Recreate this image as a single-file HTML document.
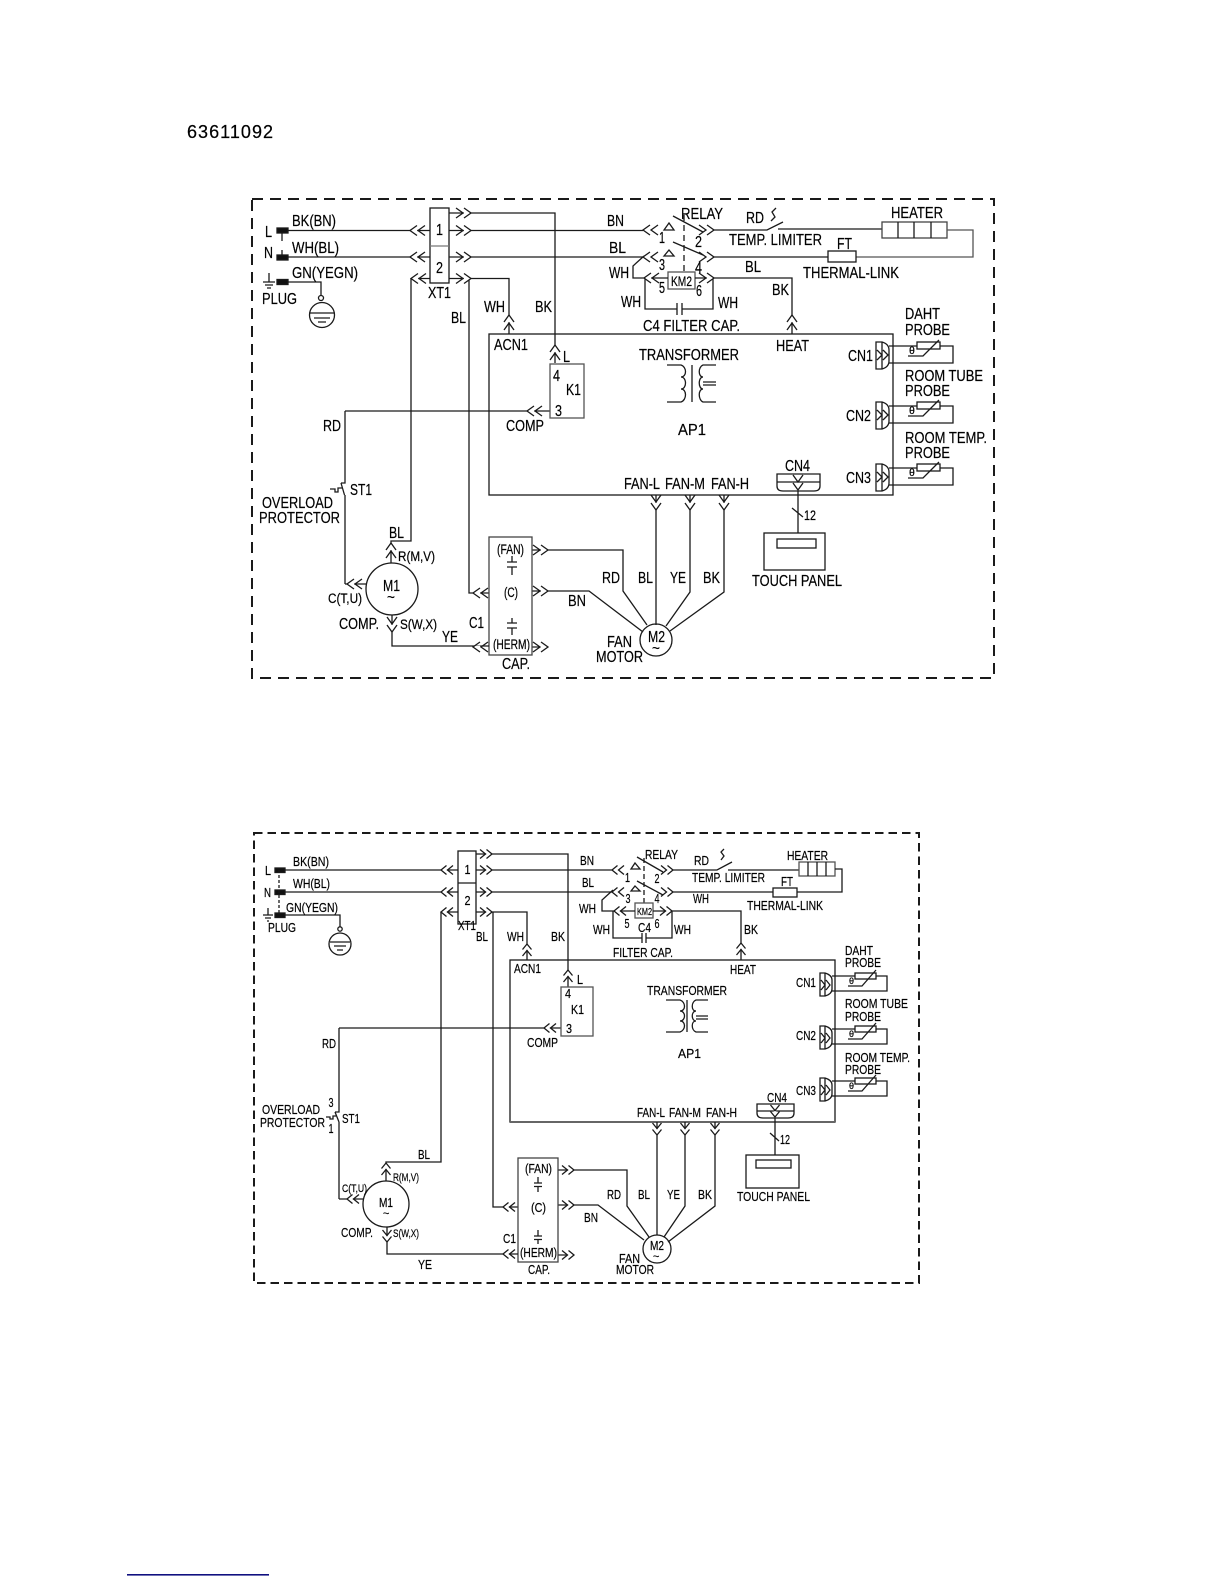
<!DOCTYPE html>
<html><head><meta charset="utf-8"><style>
html,body{margin:0;padding:0;background:#fff}
svg{display:block}
text{font-family:"Liberation Sans",sans-serif;fill:#000;stroke:#000;stroke-width:.2}
.t text{font-size:16px}
.b text{font-size:13px}
.t text.s{font-size:13.5px}
.b text.x{font-size:11px}
.t text.x{font-size:11px}
path,line,rect,circle{fill:none;stroke:#1a1a1a;stroke-width:1.3}
</style></head><body>
<svg width="1224" height="1584" viewBox="0 0 1224 1584" xmlns="http://www.w3.org/2000/svg">
<defs>
<g id="cr"><path d="M-7.200 0H-.8" style="stroke:#fff;stroke-width:2.500"/><path d="M-7-5L0 0L-7 5M-15-5L-8 0L-15 5"/></g>
<g id="cl"><path d="M.8 0H7.200" style="stroke:#fff;stroke-width:2.500"/><path d="M7-5L0 0L7 5M15-5L8 0L15 5"/></g>
<g id="cu"><path d="M0 .8V7.200" style="stroke:#fff;stroke-width:2.500"/><path d="M-5 7L0 0L5 7M-5 15L0 8L5 15"/></g>
<g id="cd"><path d="M0-.8V-7.200" style="stroke:#fff;stroke-width:2.500"/><path d="M-5-7L0 0L5-7M-5-15L0-8L5-15"/></g>
<g id="sr"><path d="M-5.900 0H-.6" style="stroke:#fff;stroke-width:2.500"/><path d="M-5.500-4.500L0 0L-5.500 4.500M-12-4.500L-6.500 0L-12 4.500"/></g>
<g id="sl"><path d="M.6 0H5.900" style="stroke:#fff;stroke-width:2.500"/><path d="M5.500-4.500L0 0L5.500 4.500M12-4.500L6.500 0L12 4.500"/></g>
<g id="su"><path d="M0 .6V5.900" style="stroke:#fff;stroke-width:2.500"/><path d="M-4.500 5.500L0 0L4.500 5.500M-4.500 12L0 6.500L4.500 12"/></g>
<g id="sd"><path d="M0-.6V-5.900" style="stroke:#fff;stroke-width:2.500"/><path d="M-4.500-5.500L0 0L4.500-5.500M-4.500-12L0-6.500L4.500-12"/></g>
<g id="pt">
<path d="M876 342H882Q889 344 889 350V361Q889 367 882 369H876ZM882 342V369M877 350L882 355L877 360M883 350L888 355L883 360"/>
<path d="M889 346H953V363H889"/>
<rect x="917" y="342" width="23" height="7" style="fill:#fff"/>
<path d="M939 340L923 356H908"/>
<text x="909" y="354" style="font-size:10.500px">θ</text>
</g>
<g id="pb">
<path d="M820 973H825Q832 975 832 980V989Q832 994 825 996H820ZM825 973V996M821 980L825 985L821 990M826 980L830 985L826 990"/>
<path d="M832 976H887V991H832"/>
<rect x="855" y="973" width="21" height="6" style="fill:#fff"/>
<path d="M876 970L862 986H848"/>
<text x="849" y="984" style="font-size:9px">θ</text>
</g>
</defs>

<text x="187" y="138" style="font-size:18px" textLength="86" lengthAdjust="spacing">63611092</text>
<rect x="127" y="1574" width="142" height="1.600" style="fill:#101080;stroke:none"/>

<!-- TOP DIAGRAM -->
<g class="t">
<path d="M252 199H994V678H252Z" style="stroke-width:2;stroke-dasharray:11 7"/>
<path d="M277 230.500H430M282 230V241M282 250V257" />
<path d="M277 257H430M277 282H321V295"/>
<rect x="277" y="228" width="11" height="5" style="fill:#111"/>
<rect x="277" y="255" width="11" height="5" style="fill:#111"/>
<rect x="277" y="279.500" width="11" height="5" style="fill:#111"/>
<path d="M263 282H275M269 273V282M265 285H273M267 288H271"/>
<circle cx="321" cy="298" r="2.500"/>
<circle cx="322" cy="315" r="12.500"/>
<path d="M310 313H334M314 318H330M318 322H326"/>
<rect x="430" y="208" width="19" height="75"/><path d="M430 246H449" style="stroke:#777"/>
<path d="M449 213H555V363M449 230.500H643M449 257H643M449 278.500H509V334M411 278.500H430"/>
<path d="M411 278.500V541H391V563M469 278.500V593H489M345 411H550"/>
<path d="M664 230L669 223L674 230Z"/>
<path d="M664 256L669 250L674 256Z"/>
<path d="M673 216L703 232M673 242L703 255"/>
<path d="M684 215V272" style="stroke-dasharray:6 4"/>
<rect x="668" y="272" width="27" height="17" style="stroke:#555"/>
<path d="M644 278H668M695 278H792V334"/>
<path d="M644 256L633 266V278H644M645 278V309H677M682 309H713V278M677 303V315M682 303V315"/>
<path d="M714 230H767L783 222M778 229H882M771 221L775 217L772 212L776 208"/>
<rect x="882" y="222" width="65" height="16" style="stroke:#444"/>
<path d="M898 222V238M914 222V238M931 222V238"/>
<path d="M947 230H973V257H856" style="stroke:#555"/>
<rect x="828" y="251" width="28" height="11"/>
<path d="M714 257H828"/>
<rect x="489" y="334" width="404" height="161"/>
<rect x="550" y="364" width="34" height="54" style="stroke:#555"/>
<path d="M692 365V402"/>
<path d="M667 365H681C687 367 687 377 681 377C687 377 687 389 681 389C687 389 687 400 681 402H667"/>
<path d="M716 365H703C698 367 698 377 703 377C698 377 698 389 703 389C698 389 698 400 703 402H716M703 382H716M703 385H716"/>
<use href="#pt"/><use href="#pt" y="60"/><use href="#pt" y="122"/>
<path d="M777 474H820V486Q820 491 814 491H783Q777 491 777 486ZM777 482H820"/>
<path d="M798 491V533M792 508L803 517"/>
<rect x="764" y="533" width="61" height="37"/>
<rect x="777" y="539" width="39" height="9"/>
<path d="M656 495V625M690 495V592L666 626M724 495V592L670 631"/>
<circle cx="656" cy="640" r="16"/>
<path d="M532 550H623V591L647 625M532 591H589L643 632M532 647H540"/>
<rect x="489" y="537" width="43" height="118" style="stroke:#444"/>
<path d="M512 556V562M507 562H517M507 567H517M512 567V575M512 618V623M507 623H517M507 628H517M512 628V635"/>
<circle cx="392" cy="589" r="26"/>
<path d="M345 584H366"/>
<path d="M392 615V646H489"/>
<path d="M345 411V483H341M341 483L344.500 495M345 495V584"/>
<path d="M330 489H335V492H338V488H342"/>
<use href="#cl" x="410" y="230.500"/><use href="#cl" x="410" y="257"/><use href="#cl" x="411" y="278.500"/>
<use href="#cr" x="471" y="213"/><use href="#cr" x="471" y="230.500"/><use href="#cr" x="471" y="257"/><use href="#cr" x="471" y="278.500"/>
<use href="#cu" x="509" y="315"/><use href="#cu" x="555" y="345"/><use href="#cl" x="527" y="411"/>
<use href="#cl" x="643" y="230"/><use href="#cl" x="643" y="257"/><use href="#cl" x="644" y="278"/>
<use href="#cr" x="714" y="230"/><use href="#cr" x="714" y="257"/><use href="#cr" x="714" y="278"/>
<use href="#cu" x="792" y="315"/>
<use href="#cd" x="798" y="490"/>
<use href="#cd" x="656" y="510"/><use href="#cd" x="690" y="510"/><use href="#cd" x="724" y="510"/>
<use href="#cr" x="548" y="550"/><use href="#cr" x="548" y="591"/><use href="#cr" x="548" y="647"/>
<use href="#cl" x="473" y="593"/><use href="#cl" x="473" y="647"/>
<use href="#cu" x="391" y="543"/><use href="#cl" x="347" y="584"/><use href="#cd" x="392" y="632"/>
<text x="292" y="226" textLength="44" lengthAdjust="spacingAndGlyphs">BK(BN)</text>
<text x="265" y="237" textLength="7" lengthAdjust="spacingAndGlyphs">L</text>
<text x="292" y="253" textLength="47" lengthAdjust="spacingAndGlyphs">WH(BL)</text>
<text x="264" y="258" textLength="9" lengthAdjust="spacingAndGlyphs">N</text>
<text x="292" y="278" textLength="66" lengthAdjust="spacingAndGlyphs">GN(YEGN)</text>
<text x="262" y="304" textLength="35" lengthAdjust="spacingAndGlyphs">PLUG</text>
<text x="428" y="298" textLength="23" lengthAdjust="spacingAndGlyphs">XT1</text>
<text x="484" y="312" textLength="21" lengthAdjust="spacingAndGlyphs">WH</text>
<text x="451" y="323" textLength="15" lengthAdjust="spacingAndGlyphs">BL</text>
<text x="535" y="312" textLength="17" lengthAdjust="spacingAndGlyphs">BK</text>
<text x="494" y="350" textLength="34" lengthAdjust="spacingAndGlyphs">ACN1</text>
<text x="563" y="362" textLength="7" lengthAdjust="spacingAndGlyphs">L</text>
<text x="553" y="381" textLength="7" lengthAdjust="spacingAndGlyphs">4</text>
<text x="566" y="395" textLength="15" lengthAdjust="spacingAndGlyphs">K1</text>
<text x="555" y="416" textLength="7" lengthAdjust="spacingAndGlyphs">3</text>
<text x="506" y="431" textLength="38" lengthAdjust="spacingAndGlyphs">COMP</text>
<text x="323" y="431" textLength="18" lengthAdjust="spacingAndGlyphs">RD</text>
<text x="436" y="235" textLength="7" lengthAdjust="spacingAndGlyphs">1</text>
<text x="436" y="273" textLength="7" lengthAdjust="spacingAndGlyphs">2</text>
<text x="607" y="226" textLength="17" lengthAdjust="spacingAndGlyphs">BN</text>
<text x="681" y="219" textLength="42" lengthAdjust="spacingAndGlyphs">RELAY</text>
<text x="659" y="243" textLength="6" lengthAdjust="spacingAndGlyphs">1</text>
<text x="695" y="247" textLength="7" lengthAdjust="spacingAndGlyphs">2</text>
<text x="746" y="223" textLength="18" lengthAdjust="spacingAndGlyphs">RD</text>
<text x="729" y="245" textLength="93" lengthAdjust="spacingAndGlyphs">TEMP. LIMITER</text>
<text x="891" y="218" textLength="52" lengthAdjust="spacingAndGlyphs">HEATER</text>
<text x="837" y="249" textLength="15" lengthAdjust="spacingAndGlyphs">FT</text>
<text x="803" y="278" textLength="96" lengthAdjust="spacingAndGlyphs">THERMAL-LINK</text>
<text x="609" y="253" textLength="17" lengthAdjust="spacingAndGlyphs">BL</text>
<text x="659" y="270" textLength="6" lengthAdjust="spacingAndGlyphs">3</text>
<text x="695" y="273" textLength="7" lengthAdjust="spacingAndGlyphs">4</text>
<text x="745" y="272" textLength="16" lengthAdjust="spacingAndGlyphs">BL</text>
<text x="609" y="278" textLength="20" lengthAdjust="spacingAndGlyphs">WH</text>
<text x="671" y="286" class="s" textLength="21" lengthAdjust="spacingAndGlyphs">KM2</text>
<text x="659" y="293" textLength="6" lengthAdjust="spacingAndGlyphs">5</text>
<text x="696" y="296" textLength="6" lengthAdjust="spacingAndGlyphs">6</text>
<text x="772" y="295" textLength="17" lengthAdjust="spacingAndGlyphs">BK</text>
<text x="621" y="307" textLength="20" lengthAdjust="spacingAndGlyphs">WH</text>
<text x="718" y="308" textLength="20" lengthAdjust="spacingAndGlyphs">WH</text>
<text x="643" y="331" textLength="97" lengthAdjust="spacingAndGlyphs">C4 FILTER CAP.</text>
<text x="776" y="351" textLength="33" lengthAdjust="spacingAndGlyphs">HEAT</text>
<text x="639" y="360" textLength="100" lengthAdjust="spacingAndGlyphs">TRANSFORMER</text>
<text x="678" y="435" textLength="28" lengthAdjust="spacingAndGlyphs">AP1</text>
<text x="848" y="361" textLength="25" lengthAdjust="spacingAndGlyphs">CN1</text>
<text x="905" y="319" textLength="35" lengthAdjust="spacingAndGlyphs">DAHT</text>
<text x="905" y="335" textLength="45" lengthAdjust="spacingAndGlyphs">PROBE</text>
<text x="905" y="381" textLength="78" lengthAdjust="spacingAndGlyphs">ROOM TUBE</text>
<text x="905" y="396" textLength="45" lengthAdjust="spacingAndGlyphs">PROBE</text>
<text x="846" y="421" textLength="25" lengthAdjust="spacingAndGlyphs">CN2</text>
<text x="905" y="443" textLength="82" lengthAdjust="spacingAndGlyphs">ROOM TEMP.</text>
<text x="905" y="458" textLength="45" lengthAdjust="spacingAndGlyphs">PROBE</text>
<text x="846" y="483" textLength="25" lengthAdjust="spacingAndGlyphs">CN3</text>
<text x="785" y="471" textLength="25" lengthAdjust="spacingAndGlyphs">CN4</text>
<text x="624" y="489" textLength="36" lengthAdjust="spacingAndGlyphs">FAN-L</text>
<text x="665" y="489" textLength="40" lengthAdjust="spacingAndGlyphs">FAN-M</text>
<text x="711" y="489" textLength="38" lengthAdjust="spacingAndGlyphs">FAN-H</text>
<text x="804" y="520" class="s" textLength="12" lengthAdjust="spacingAndGlyphs">12</text>
<text x="752" y="586" textLength="90" lengthAdjust="spacingAndGlyphs">TOUCH PANEL</text>
<text x="350" y="495" textLength="22" lengthAdjust="spacingAndGlyphs">ST1</text>
<text x="262" y="508" textLength="71" lengthAdjust="spacingAndGlyphs">OVERLOAD</text>
<text x="259" y="523" textLength="81" lengthAdjust="spacingAndGlyphs">PROTECTOR</text>
<text x="389" y="538" textLength="15" lengthAdjust="spacingAndGlyphs">BL</text>
<text x="398" y="561" class="s" textLength="37" lengthAdjust="spacingAndGlyphs">R(M,V)</text>
<text x="497" y="554" class="s" textLength="27" lengthAdjust="spacingAndGlyphs">(FAN)</text>
<text x="504" y="597" class="s" textLength="14" lengthAdjust="spacingAndGlyphs">(C)</text>
<text x="383" y="591" textLength="17" lengthAdjust="spacingAndGlyphs">M1</text>
<text x="387" y="602" class="s">~</text>
<text x="328" y="603" class="s" textLength="34" lengthAdjust="spacingAndGlyphs">C(T,U)</text>
<text x="339" y="629" textLength="40" lengthAdjust="spacingAndGlyphs">COMP.</text>
<text x="400" y="629" class="s" textLength="37" lengthAdjust="spacingAndGlyphs">S(W,X)</text>
<text x="469" y="628" textLength="15" lengthAdjust="spacingAndGlyphs">C1</text>
<text x="493" y="649" class="s" textLength="37" lengthAdjust="spacingAndGlyphs">(HERM)</text>
<text x="442" y="642" textLength="16" lengthAdjust="spacingAndGlyphs">YE</text>
<text x="602" y="583" textLength="18" lengthAdjust="spacingAndGlyphs">RD</text>
<text x="638" y="583" textLength="15" lengthAdjust="spacingAndGlyphs">BL</text>
<text x="670" y="583" textLength="16" lengthAdjust="spacingAndGlyphs">YE</text>
<text x="703" y="583" textLength="17" lengthAdjust="spacingAndGlyphs">BK</text>
<text x="568" y="606" textLength="18" lengthAdjust="spacingAndGlyphs">BN</text>
<text x="607" y="647" textLength="25" lengthAdjust="spacingAndGlyphs">FAN</text>
<text x="596" y="662" textLength="47" lengthAdjust="spacingAndGlyphs">MOTOR</text>
<text x="648" y="642" textLength="17" lengthAdjust="spacingAndGlyphs">M2</text>
<text x="652" y="653" class="s">~</text>
<text x="502" y="669" textLength="28" lengthAdjust="spacingAndGlyphs">CAP.</text>
</g>

<!-- BOTTOM DIAGRAM -->
<g class="b">
<path d="M254 833H919V1283H254Z" style="stroke-width:2;stroke-dasharray:8.500 5"/>
<rect x="275" y="868" width="10" height="4.500" style="fill:#111"/>
<rect x="275" y="890" width="10" height="4.500" style="fill:#111"/>
<rect x="275" y="913" width="10" height="4.500" style="fill:#111"/>
<path d="M279 870V915" style="stroke-dasharray:3 2"/>
<path d="M285 870H458M285 892H458M285 915H340V927M263 915H273M268 908V915M265 918H271M267 921H269"/>
<circle cx="340" cy="929" r="2.200"/>
<circle cx="340" cy="944" r="11"/>
<path d="M330 942H350M334 946H346M337 950H343"/>
<path d="M441 912H458"/>
<rect x="458" y="851" width="18" height="73"/><path d="M458 883H476"/>
<path d="M476 854H568V987M476 870H612M476 892H612M476 912H527V960"/>
<path d="M441 912V1162H386V1181M493 912V1207H518M339 1028H561"/>
<path d="M631 869L635 863L640 869ZM631 891L635 886L640 891Z"/>
<path d="M637 857L663 872M637 881L663 895"/>
<path d="M644 858V903" style="stroke-dasharray:5 3"/>
<rect x="635" y="903" width="18" height="15" style="stroke:#555"/>
<path d="M614 911H635M653 911H741V960"/>
<path d="M613 890L602 900V911H614M613 911V938H642M646 938H672V911M642 933V943M646 933V943"/>
<path d="M673 870H717L732 862M728 870H799M721 860L724 856L721 852L724 849"/>
<rect x="799" y="862" width="36" height="14" style="stroke:#555"/>
<path d="M808 862V876M817 862V876M826 862V876"/>
<path d="M835 869H842V892H797"/>
<rect x="773" y="888" width="24" height="9"/>
<path d="M673 892H773"/>
<rect x="510" y="960" width="325" height="162"/>
<path d="M510 1122H835" style="stroke:#666;stroke-width:2"/>
<rect x="561" y="987" width="32" height="49" style="stroke:#555"/>
<path d="M687 1000V1032"/>
<path d="M666 1000H680C686 1002 686 1011 680 1011C686 1011 686 1021 680 1021C686 1021 686 1030 680 1032H666"/>
<path d="M708 1000H696C691 1002 691 1011 696 1011C691 1011 691 1021 696 1021C691 1021 691 1030 696 1032H708M696 1016H708M696 1019H708"/>
<use href="#pb"/><use href="#pb" y="53"/><use href="#pb" y="105"/>
<path d="M757 1104H794V1113Q794 1118 788 1118H763Q757 1118 757 1113ZM757 1111H794" />
<path d="M775 1118V1155M770 1133L779 1141"/>
<rect x="746" y="1155" width="53" height="33"/>
<rect x="756" y="1160" width="35" height="8"/>
<path d="M657 1122V1235M685 1122V1206L664 1237M715 1122V1206L668 1242"/>
<circle cx="657" cy="1249" r="14"/>
<path d="M558 1170H627V1206L649 1237M558 1205H598L644 1240M558 1255H567"/>
<rect x="518" y="1158" width="40" height="104" style="stroke:#444"/>
<path d="M538 1177V1183M534 1183H542M534 1186.500H542M538 1186.500V1192M538 1230V1236M534 1236H542M534 1239.500H542M538 1239.500V1244"/>
<circle cx="386" cy="1204" r="23"/>
<path d="M339 1199H363"/>
<path d="M387 1227V1254H518"/>
<path d="M339 1028V1112H335M335 1112L339 1122M339 1122V1199"/>
<path d="M326 1117H330V1119H333V1116H336"/>
<use href="#sl" x="441" y="870"/><use href="#sl" x="441" y="892"/><use href="#sl" x="441" y="912"/>
<use href="#sr" x="492" y="854"/><use href="#sr" x="492" y="870"/><use href="#sr" x="492" y="892"/><use href="#sr" x="492" y="912"/>
<use href="#su" x="527" y="944"/><use href="#su" x="568" y="970"/><use href="#sl" x="544" y="1028"/>
<use href="#sl" x="612" y="870"/><use href="#sl" x="612" y="892"/><use href="#sl" x="614" y="911"/>
<use href="#sr" x="673" y="870"/><use href="#sr" x="673" y="892"/><use href="#sr" x="672" y="911"/>
<use href="#su" x="741" y="943"/>
<use href="#sd" x="775" y="1117"/>
<use href="#sd" x="657" y="1135"/><use href="#sd" x="685" y="1135"/><use href="#sd" x="715" y="1135"/>
<use href="#sr" x="574" y="1170"/><use href="#sr" x="574" y="1205"/><use href="#sr" x="574" y="1255"/>
<use href="#sl" x="503" y="1207"/><use href="#sl" x="503" y="1254"/>
<use href="#su" x="386" y="1163"/><use href="#sl" x="347" y="1199"/><use href="#sd" x="387" y="1242"/>
<text x="293" y="866" textLength="36" lengthAdjust="spacingAndGlyphs">BK(BN)</text>
<text x="265" y="875" textLength="6" lengthAdjust="spacingAndGlyphs">L</text>
<text x="293" y="888" textLength="37" lengthAdjust="spacingAndGlyphs">WH(BL)</text>
<text x="264" y="897" textLength="7" lengthAdjust="spacingAndGlyphs">N</text>
<text x="286" y="912" textLength="52" lengthAdjust="spacingAndGlyphs">GN(YEGN)</text>
<text x="268" y="932" textLength="28" lengthAdjust="spacingAndGlyphs">PLUG</text>
<text x="458" y="930" textLength="18" lengthAdjust="spacingAndGlyphs">XT1</text>
<text x="476" y="941" textLength="12" lengthAdjust="spacingAndGlyphs">BL</text>
<text x="507" y="941" textLength="17" lengthAdjust="spacingAndGlyphs">WH</text>
<text x="551" y="941" textLength="14" lengthAdjust="spacingAndGlyphs">BK</text>
<text x="514" y="973" textLength="27" lengthAdjust="spacingAndGlyphs">ACN1</text>
<text x="577" y="984" textLength="6" lengthAdjust="spacingAndGlyphs">L</text>
<text x="565" y="998" textLength="6" lengthAdjust="spacingAndGlyphs">4</text>
<text x="571" y="1014" textLength="13" lengthAdjust="spacingAndGlyphs">K1</text>
<text x="566" y="1033" textLength="6" lengthAdjust="spacingAndGlyphs">3</text>
<text x="527" y="1047" textLength="31" lengthAdjust="spacingAndGlyphs">COMP</text>
<text x="322" y="1048" textLength="14" lengthAdjust="spacingAndGlyphs">RD</text>
<text x="464.500" y="874" textLength="6" lengthAdjust="spacingAndGlyphs">1</text>
<text x="464.500" y="905" textLength="6" lengthAdjust="spacingAndGlyphs">2</text>
<text x="580" y="865" textLength="14" lengthAdjust="spacingAndGlyphs">BN</text>
<text x="582" y="887" textLength="12" lengthAdjust="spacingAndGlyphs">BL</text>
<text x="645" y="859" textLength="33" lengthAdjust="spacingAndGlyphs">RELAY</text>
<text x="694" y="865" textLength="15" lengthAdjust="spacingAndGlyphs">RD</text>
<text x="692" y="882" textLength="73" lengthAdjust="spacingAndGlyphs">TEMP. LIMITER</text>
<text x="787" y="860" textLength="41" lengthAdjust="spacingAndGlyphs">HEATER</text>
<text x="781" y="886" textLength="12" lengthAdjust="spacingAndGlyphs">FT</text>
<text x="693" y="903" textLength="16" lengthAdjust="spacingAndGlyphs">WH</text>
<text x="747" y="910" textLength="76" lengthAdjust="spacingAndGlyphs">THERMAL-LINK</text>
<text x="579" y="913" textLength="17" lengthAdjust="spacingAndGlyphs">WH</text>
<text x="637" y="915" style="font-size:10px" textLength="15" lengthAdjust="spacingAndGlyphs">KM2</text>
<text x="625" y="882" textLength="5" lengthAdjust="spacingAndGlyphs">1</text>
<text x="654.500" y="883" textLength="5" lengthAdjust="spacingAndGlyphs">2</text>
<text x="625.500" y="903" textLength="5" lengthAdjust="spacingAndGlyphs">3</text>
<text x="654.500" y="903" textLength="5" lengthAdjust="spacingAndGlyphs">4</text>
<text x="624.500" y="928" textLength="5" lengthAdjust="spacingAndGlyphs">5</text>
<text x="654.500" y="928" textLength="5" lengthAdjust="spacingAndGlyphs">6</text>
<text x="638" y="932" textLength="13" lengthAdjust="spacingAndGlyphs">C4</text>
<text x="593" y="934" textLength="17" lengthAdjust="spacingAndGlyphs">WH</text>
<text x="674" y="934" textLength="17" lengthAdjust="spacingAndGlyphs">WH</text>
<text x="744" y="934" textLength="14" lengthAdjust="spacingAndGlyphs">BK</text>
<text x="613" y="957" textLength="60" lengthAdjust="spacingAndGlyphs">FILTER CAP.</text>
<text x="730" y="974" textLength="26" lengthAdjust="spacingAndGlyphs">HEAT</text>
<text x="647" y="995" textLength="80" lengthAdjust="spacingAndGlyphs">TRANSFORMER</text>
<text x="678" y="1058" textLength="23" lengthAdjust="spacingAndGlyphs">AP1</text>
<text x="796" y="987" textLength="20" lengthAdjust="spacingAndGlyphs">CN1</text>
<text x="796" y="1040" textLength="20" lengthAdjust="spacingAndGlyphs">CN2</text>
<text x="796" y="1095" textLength="20" lengthAdjust="spacingAndGlyphs">CN3</text>
<text x="845" y="955" textLength="28" lengthAdjust="spacingAndGlyphs">DAHT</text>
<text x="845" y="967" textLength="36" lengthAdjust="spacingAndGlyphs">PROBE</text>
<text x="845" y="1008" textLength="63" lengthAdjust="spacingAndGlyphs">ROOM TUBE</text>
<text x="845" y="1021" textLength="36" lengthAdjust="spacingAndGlyphs">PROBE</text>
<text x="845" y="1062" textLength="65" lengthAdjust="spacingAndGlyphs">ROOM TEMP.</text>
<text x="845" y="1074" textLength="36" lengthAdjust="spacingAndGlyphs">PROBE</text>
<text x="767" y="1102" textLength="20" lengthAdjust="spacingAndGlyphs">CN4</text>
<text x="637" y="1117" textLength="28" lengthAdjust="spacingAndGlyphs">FAN-L</text>
<text x="669" y="1117" textLength="32" lengthAdjust="spacingAndGlyphs">FAN-M</text>
<text x="706" y="1117" textLength="31" lengthAdjust="spacingAndGlyphs">FAN-H</text>
<text x="780" y="1144" textLength="10" lengthAdjust="spacingAndGlyphs">12</text>
<text x="737" y="1201" textLength="73" lengthAdjust="spacingAndGlyphs">TOUCH PANEL</text>
<text x="328.500" y="1107" textLength="5" lengthAdjust="spacingAndGlyphs">3</text>
<text x="328.500" y="1133" textLength="5" lengthAdjust="spacingAndGlyphs">1</text>
<text x="262" y="1114" textLength="58" lengthAdjust="spacingAndGlyphs">OVERLOAD</text>
<text x="260" y="1127" textLength="65" lengthAdjust="spacingAndGlyphs">PROTECTOR</text>
<text x="342" y="1123" textLength="18" lengthAdjust="spacingAndGlyphs">ST1</text>
<text x="418" y="1159" textLength="12" lengthAdjust="spacingAndGlyphs">BL</text>
<text x="393" y="1181" class="x" textLength="26" lengthAdjust="spacingAndGlyphs">R(M,V)</text>
<text x="342" y="1192" class="x" textLength="25" lengthAdjust="spacingAndGlyphs">C(T,U)</text>
<text x="379" y="1207" textLength="14" lengthAdjust="spacingAndGlyphs">M1</text>
<text x="383" y="1217" class="x">~</text>
<text x="341" y="1237" textLength="32" lengthAdjust="spacingAndGlyphs">COMP.</text>
<text x="393" y="1237" class="x" textLength="26" lengthAdjust="spacingAndGlyphs">S(W,X)</text>
<text x="418" y="1269" textLength="14" lengthAdjust="spacingAndGlyphs">YE</text>
<text x="525" y="1173" textLength="27" lengthAdjust="spacingAndGlyphs">(FAN)</text>
<text x="531" y="1212" textLength="15" lengthAdjust="spacingAndGlyphs">(C)</text>
<text x="520" y="1257" textLength="37" lengthAdjust="spacingAndGlyphs">(HERM)</text>
<text x="503" y="1243" textLength="13" lengthAdjust="spacingAndGlyphs">C1</text>
<text x="528" y="1274" textLength="22" lengthAdjust="spacingAndGlyphs">CAP.</text>
<text x="607" y="1199" textLength="14" lengthAdjust="spacingAndGlyphs">RD</text>
<text x="638" y="1199" textLength="12" lengthAdjust="spacingAndGlyphs">BL</text>
<text x="667" y="1199" textLength="13" lengthAdjust="spacingAndGlyphs">YE</text>
<text x="698" y="1199" textLength="14" lengthAdjust="spacingAndGlyphs">BK</text>
<text x="584" y="1222" textLength="14" lengthAdjust="spacingAndGlyphs">BN</text>
<text x="619" y="1263" textLength="21" lengthAdjust="spacingAndGlyphs">FAN</text>
<text x="616" y="1274" textLength="38" lengthAdjust="spacingAndGlyphs">MOTOR</text>
<text x="650" y="1250" textLength="14" lengthAdjust="spacingAndGlyphs">M2</text>
<text x="653" y="1260" class="x">~</text>
</g>
</svg>
</body></html>
